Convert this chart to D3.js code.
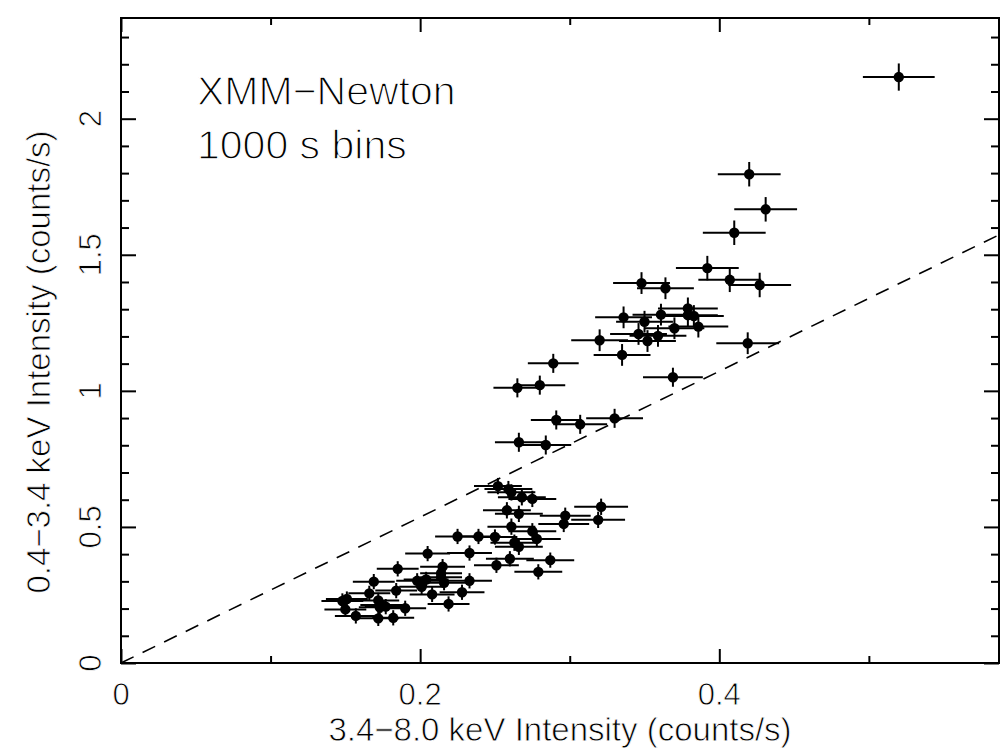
<!DOCTYPE html>
<html>
<head>
<meta charset="utf-8">
<script src="https://cdn.jsdelivr.net/npm/d3@7"></script>
<style>
  html, body { margin: 0; padding: 0; background: #fff; }
  svg text { font-family: "Liberation Sans", Arial, sans-serif; fill: #000; }
  /* thin the glyph strokes a little, closer to the plotter-style lettering */
  svg text.thin { stroke: #fff; stroke-width: 0.8px; }
  svg text.thin-big { stroke: #fff; stroke-width: 1.3px; }
</style>
</head>
<body>
<div id="chart"></div>
<script>
// Hardness data: one entry per 1000 s bin
var xVals = [0.520, 0.420, 0.431, 0.410, 0.392, 0.407, 0.427, 0.348, 0.364, 0.379, 0.379, 0.383, 0.386, 0.361, 0.336, 0.350, 0.370, 0.346, 0.359, 0.352, 0.320, 0.335, 0.419, 0.369,
             0.289, 0.265, 0.280, 0.291, 0.307, 0.330, 0.266, 0.284,
             0.252, 0.259, 0.261, 0.268, 0.275, 0.321, 0.297, 0.319, 0.296, 0.258, 0.266, 0.261, 0.275, 0.278, 0.263, 0.266, 0.225, 0.239, 0.250, 0.205, 0.233, 0.260, 0.287, 0.251, 0.279, 0.215, 0.233, 0.216, 0.204, 0.201, 0.208, 0.228,
             0.185, 0.214, 0.214, 0.169, 0.198, 0.184, 0.166, 0.219, 0.148, 0.151, 0.172, 0.174, 0.177, 0.190, 0.150, 0.157, 0.172, 0.182, 0.173];
var yVals = [2.153, 1.796, 1.667, 1.581, 1.451, 1.408, 1.389, 1.396, 1.377, 1.303, 1.278, 1.275, 1.236, 1.280, 1.270, 1.254, 1.230, 1.209, 1.202, 1.183, 1.186, 1.132, 1.175, 1.050,
             1.101, 1.011, 1.021, 0.893, 0.877, 0.899, 0.811, 0.801,
             0.650, 0.639, 0.627, 0.609, 0.603, 0.574, 0.541, 0.526, 0.511, 0.561, 0.548, 0.501, 0.484, 0.456, 0.442, 0.427, 0.465, 0.465, 0.463, 0.402, 0.404, 0.383, 0.378, 0.359, 0.335, 0.354, 0.302, 0.295, 0.307, 0.280, 0.252, 0.260,
             0.346, 0.330, 0.315, 0.299, 0.302, 0.266, 0.256, 0.217, 0.228, 0.235, 0.230, 0.213, 0.207, 0.201, 0.197, 0.173, 0.164, 0.166, 0.205];
var xErr = [0.024, 0.021, 0.021, 0.021, 0.021, 0.021, 0.021, 0.019, 0.019, 0.020, 0.020, 0.020, 0.020, 0.019, 0.019, 0.019, 0.020, 0.019, 0.019, 0.019, 0.019, 0.019, 0.021, 0.020,
            0.017, 0.016, 0.017, 0.017, 0.018, 0.019, 0.016, 0.017,
            0.016, 0.016, 0.016, 0.016, 0.016, 0.018, 0.017, 0.018, 0.017, 0.016, 0.016, 0.016, 0.016, 0.016, 0.016, 0.016, 0.015, 0.015, 0.015, 0.015, 0.015, 0.016, 0.016, 0.015, 0.016, 0.015, 0.015, 0.015, 0.015, 0.015, 0.015, 0.015,
            0.014, 0.014, 0.014, 0.014, 0.014, 0.014, 0.014, 0.014, 0.014, 0.014, 0.014, 0.014, 0.014, 0.014, 0.014, 0.014, 0.014, 0.014, 0.014];
var yErr = [0.050, 0.045, 0.045, 0.045, 0.045, 0.045, 0.045, 0.040, 0.040, 0.040, 0.040, 0.040, 0.040, 0.040, 0.040, 0.040, 0.040, 0.040, 0.040, 0.040, 0.040, 0.040, 0.040, 0.035,
            0.035, 0.035, 0.035, 0.035, 0.035, 0.035, 0.035, 0.035,
            0.030, 0.030, 0.030, 0.030, 0.030, 0.030, 0.030, 0.030, 0.030, 0.030, 0.030, 0.030, 0.030, 0.030, 0.030, 0.030, 0.028, 0.028, 0.028, 0.028, 0.028, 0.028, 0.028, 0.028, 0.028, 0.028, 0.028, 0.028, 0.028, 0.028, 0.028, 0.028,
            0.028, 0.028, 0.028, 0.028, 0.028, 0.028, 0.028, 0.028, 0.028, 0.028, 0.028, 0.028, 0.028, 0.028, 0.028, 0.028, 0.028, 0.028, 0.028];

// dashed reference line y = slope * x
var dashSlope = 2.68;

// axes
var xDomain = [0, 0.587];
var yDomain = [0, 2.37];
var xMajor = [0, 0.2, 0.4];
var xMinor = [0.1, 0.3, 0.5];
var yMajor = [0, 0.5, 1, 1.5, 2];
var yMinor = [0.1, 0.2, 0.3, 0.4, 0.6, 0.7, 0.8, 0.9, 1.1, 1.2, 1.3, 1.4, 1.6, 1.7, 1.8, 1.9, 2.1, 2.2, 2.3];

var xTitle = '3.4\u22128.0 keV Intensity (counts/s)';
var yTitle = '0.4\u22123.4 keV Intensity (counts/s)';
var noteLines = ['XMM\u2212Newton', '1000 s bins'];

var width = 1000, height = 752;
var box = {left: 121, right: 999, top: 18, bottom: 663};

var x = d3.scaleLinear().domain(xDomain).range([box.left, box.right]);
var y = d3.scaleLinear().domain(yDomain).range([box.bottom, box.top]);

var svg = d3.select('#chart').append('svg')
            .attr('width', width)
            .attr('height', height);

svg.append('clipPath').attr('id', 'plotClip')
   .append('rect')
   .attr('x', box.left).attr('y', box.top)
   .attr('width', box.right - box.left)
   .attr('height', box.bottom - box.top);

// Tick marks on all four sides, pointing inward
function tickAxis(axis, pos, values, size) {
  var g = svg.append('g')
             .attr('transform', pos)
             .call(axis.tickValues(values).tickSize(-size).tickFormat(''));
  g.select('.domain').remove();
  g.selectAll('.tick line').attr('stroke', '#000').attr('stroke-width', 2);
  return g;
}
tickAxis(d3.axisBottom(x), 'translate(0,' + box.bottom + ')', xMajor, 14);
tickAxis(d3.axisBottom(x), 'translate(0,' + box.bottom + ')', xMinor, 7);
tickAxis(d3.axisTop(x), 'translate(0,' + box.top + ')', xMajor, 14);
tickAxis(d3.axisTop(x), 'translate(0,' + box.top + ')', xMinor, 7);
tickAxis(d3.axisLeft(y), 'translate(' + box.left + ',0)', yMajor, 15);
tickAxis(d3.axisLeft(y), 'translate(' + box.left + ',0)', yMinor, 8);
tickAxis(d3.axisRight(y), 'translate(' + box.right + ',0)', yMajor, 15);
tickAxis(d3.axisRight(y), 'translate(' + box.right + ',0)', yMinor, 8);

// Frame
svg.append('rect')
   .attr('x', box.left).attr('y', box.top)
   .attr('width', box.right - box.left)
   .attr('height', box.bottom - box.top)
   .attr('fill', 'none')
   .attr('stroke', '#000')
   .attr('stroke-width', 2);

// Tick labels
svg.append('g').selectAll('text').data(xMajor).enter()
   .append('text').classed('thin', true)
   .attr('x', function(d) { return x(d); })
   .attr('y', 705)
   .attr('text-anchor', 'middle')
   .attr('font-size', 31)
   .text(function(d) { return String(d); });

svg.append('g').selectAll('text').data(yMajor).enter()
   .append('text').classed('thin', true)
   .attr('transform', function(d) { return 'translate(101,' + y(d) + ') rotate(-90)'; })
   .attr('text-anchor', 'middle')
   .attr('font-size', 31)
   .text(function(d) { return String(d); });

// Axis titles
svg.append('text').classed('thin', true)
   .attr('x', (box.left + box.right) / 2)
   .attr('y', 741)
   .attr('text-anchor', 'middle')
   .attr('font-size', 33)
   .text(xTitle);

svg.append('text').classed('thin', true)
   .attr('transform', 'translate(50,362) rotate(-90)')
   .attr('text-anchor', 'middle')
   .attr('font-size', 33)
   .text(yTitle);

// Annotation
svg.append('g').selectAll('text').data(noteLines).enter()
   .append('text').classed('thin-big', true)
   .attr('x', 197)
   .attr('y', function(d, i) { return 105 + i * 54; })
   .attr('font-size', 41)
   .text(function(d) { return d; });

// Dashed line
svg.append('line')
   .attr('clip-path', 'url(#plotClip)')
   .attr('x1', x(0)).attr('y1', y(0))
   .attr('x2', x(xDomain[1])).attr('y2', y(dashSlope * xDomain[1]))
   .attr('stroke', '#000')
   .attr('stroke-width', 1.6)
   .attr('stroke-dasharray', '14,10');

// Points with error bars
var pts = xVals.map(function(v, i) {
  return {x: v, y: yVals[i], dx: xErr[i], dy: yErr[i]};
});

var pg = svg.append('g').attr('clip-path', 'url(#plotClip)');

pg.selectAll('line.xerr').data(pts).enter()
  .append('line').classed('xerr', true)
  .attr('x1', function(d) { return x(d.x - d.dx); })
  .attr('x2', function(d) { return x(d.x + d.dx); })
  .attr('y1', function(d) { return y(d.y); })
  .attr('y2', function(d) { return y(d.y); })
  .attr('stroke', '#000')
  .attr('stroke-width', 2);

pg.selectAll('line.yerr').data(pts).enter()
  .append('line').classed('yerr', true)
  .attr('x1', function(d) { return x(d.x); })
  .attr('x2', function(d) { return x(d.x); })
  .attr('y1', function(d) { return y(d.y - d.dy); })
  .attr('y2', function(d) { return y(d.y + d.dy); })
  .attr('stroke', '#000')
  .attr('stroke-width', 2);

pg.selectAll('circle').data(pts).enter()
  .append('circle')
  .attr('cx', function(d) { return x(d.x); })
  .attr('cy', function(d) { return y(d.y); })
  .attr('r', 5.2)
  .attr('fill', '#000');
</script>
</body>
</html>
